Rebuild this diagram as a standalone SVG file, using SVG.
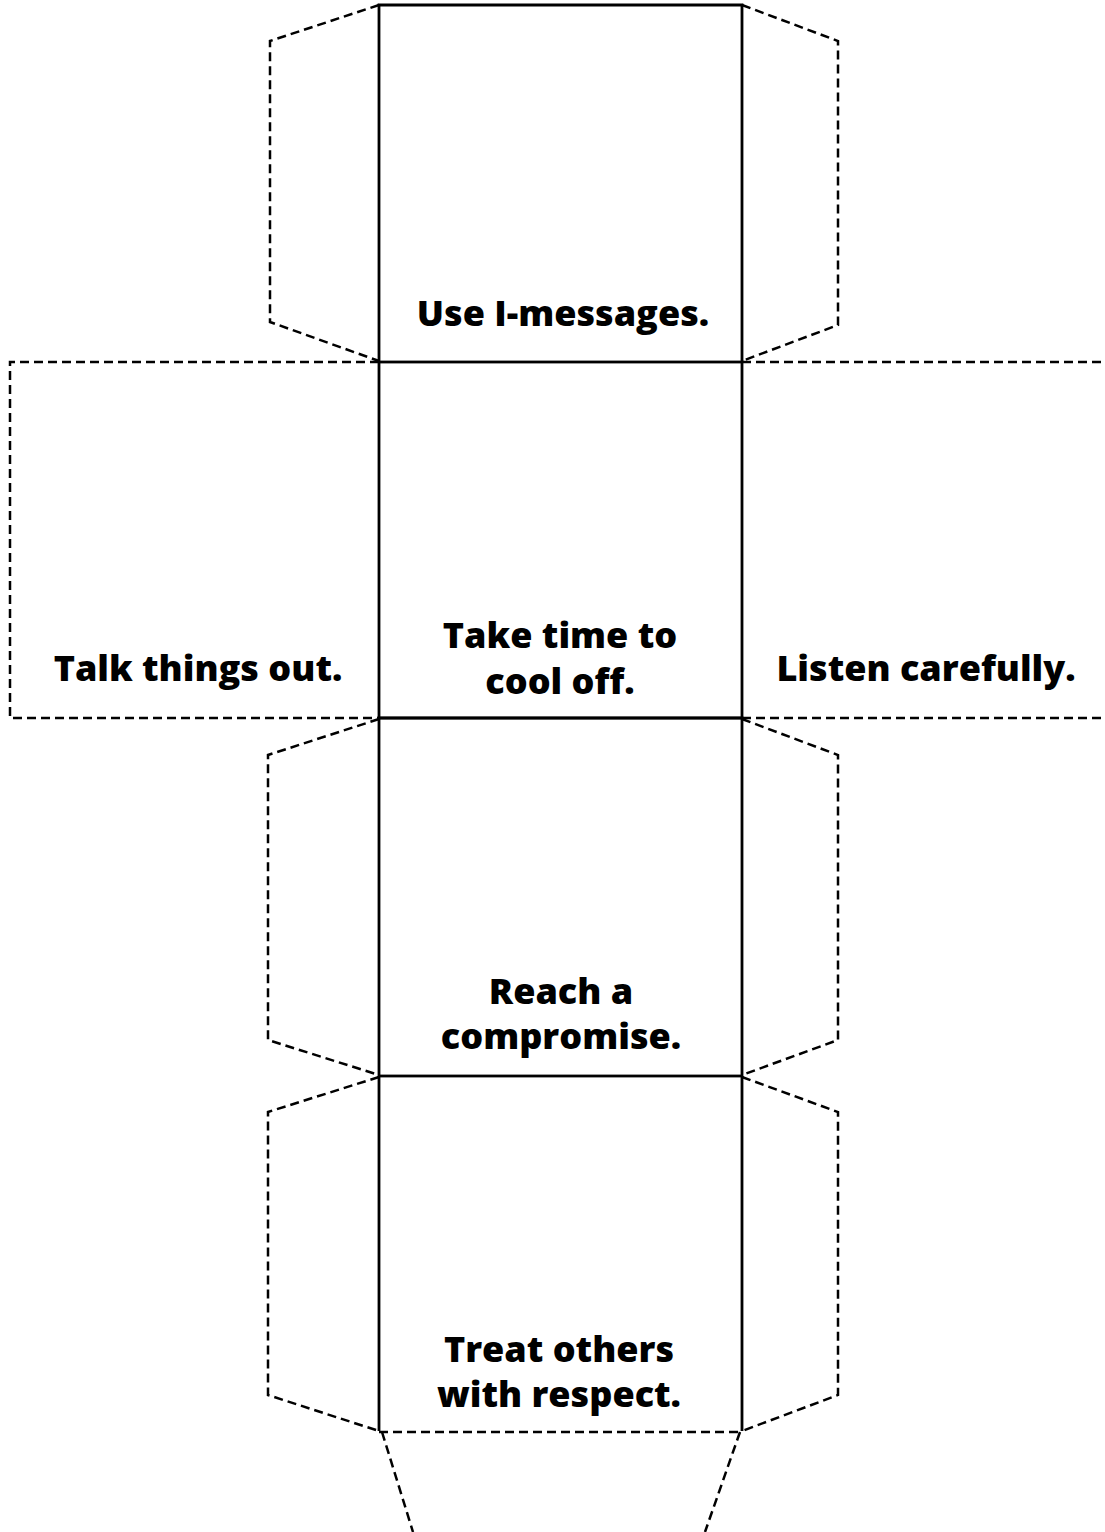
<svg xmlns="http://www.w3.org/2000/svg" width="1105" height="1532" viewBox="0 0 1105 1532">
<style>
.solid{fill:none;stroke:#000;stroke-width:2.8}
.dash{fill:none;stroke:#000;stroke-width:2.5;stroke-dasharray:9,5}
.t{font-family:"Open Sans","Liberation Sans",sans-serif;font-weight:800;font-size:36px;text-anchor:middle;fill:#000}
</style>
<rect width="1105" height="1532" fill="#fff"/>
<g id="connectors">
<polyline class="dash" points="379,5 270,41 270,322 379,361"/>
<polyline class="dash" points="742,5 838,41 838,325 742,361"/>
<polyline class="dash" points="379,362 10,362 10,718 379,718"/>
<polyline class="dash" points="742,362 1105,362"/>
<polyline class="dash" points="742,718 1105,718"/>
<polyline class="dash" points="379,719 268,755 268,1040 379,1075"/>
<polyline class="dash" points="742,719 838,755 838,1040 742,1075"/>
<polyline class="dash" points="379,1077 268,1112 268,1395 379,1431"/>
<polyline class="dash" points="742,1077 838,1112 838,1395 742,1431"/>
<line class="dash" x1="379" y1="1432" x2="742" y2="1432"/>
<line class="dash" x1="382" y1="1432" x2="413" y2="1532"/>
<line class="dash" x1="740" y1="1432" x2="705" y2="1532"/>
</g>
<g id="face1"><polyline class="solid" points="379,362 379,5 742,5 742,362"/><text class="t" x="563" y="326">Use I-messages.</text></g>
<g id="face2"><rect class="solid" x="379" y="362" width="363" height="356"/><text class="t" x="560" y="648">Take time to</text><text class="t" x="560" y="694">cool off.</text></g>
<g id="face-left"><text class="t" x="198" y="681">Talk things out.</text></g>
<g id="face-right"><text class="t" x="926" y="681">Listen carefully.</text></g>
<g id="face3"><rect class="solid" x="379" y="718" width="363" height="358"/><text class="t" x="561" y="1004">Reach a</text><text class="t" x="561" y="1049">compromise.</text></g>
<g id="face4"><line class="solid" x1="379" y1="1076" x2="379" y2="1431"/><line class="solid" x1="742" y1="1076" x2="742" y2="1431"/><text class="t" x="559" y="1362">Treat others</text><text class="t" x="559" y="1407">with respect.</text></g>
</svg>
